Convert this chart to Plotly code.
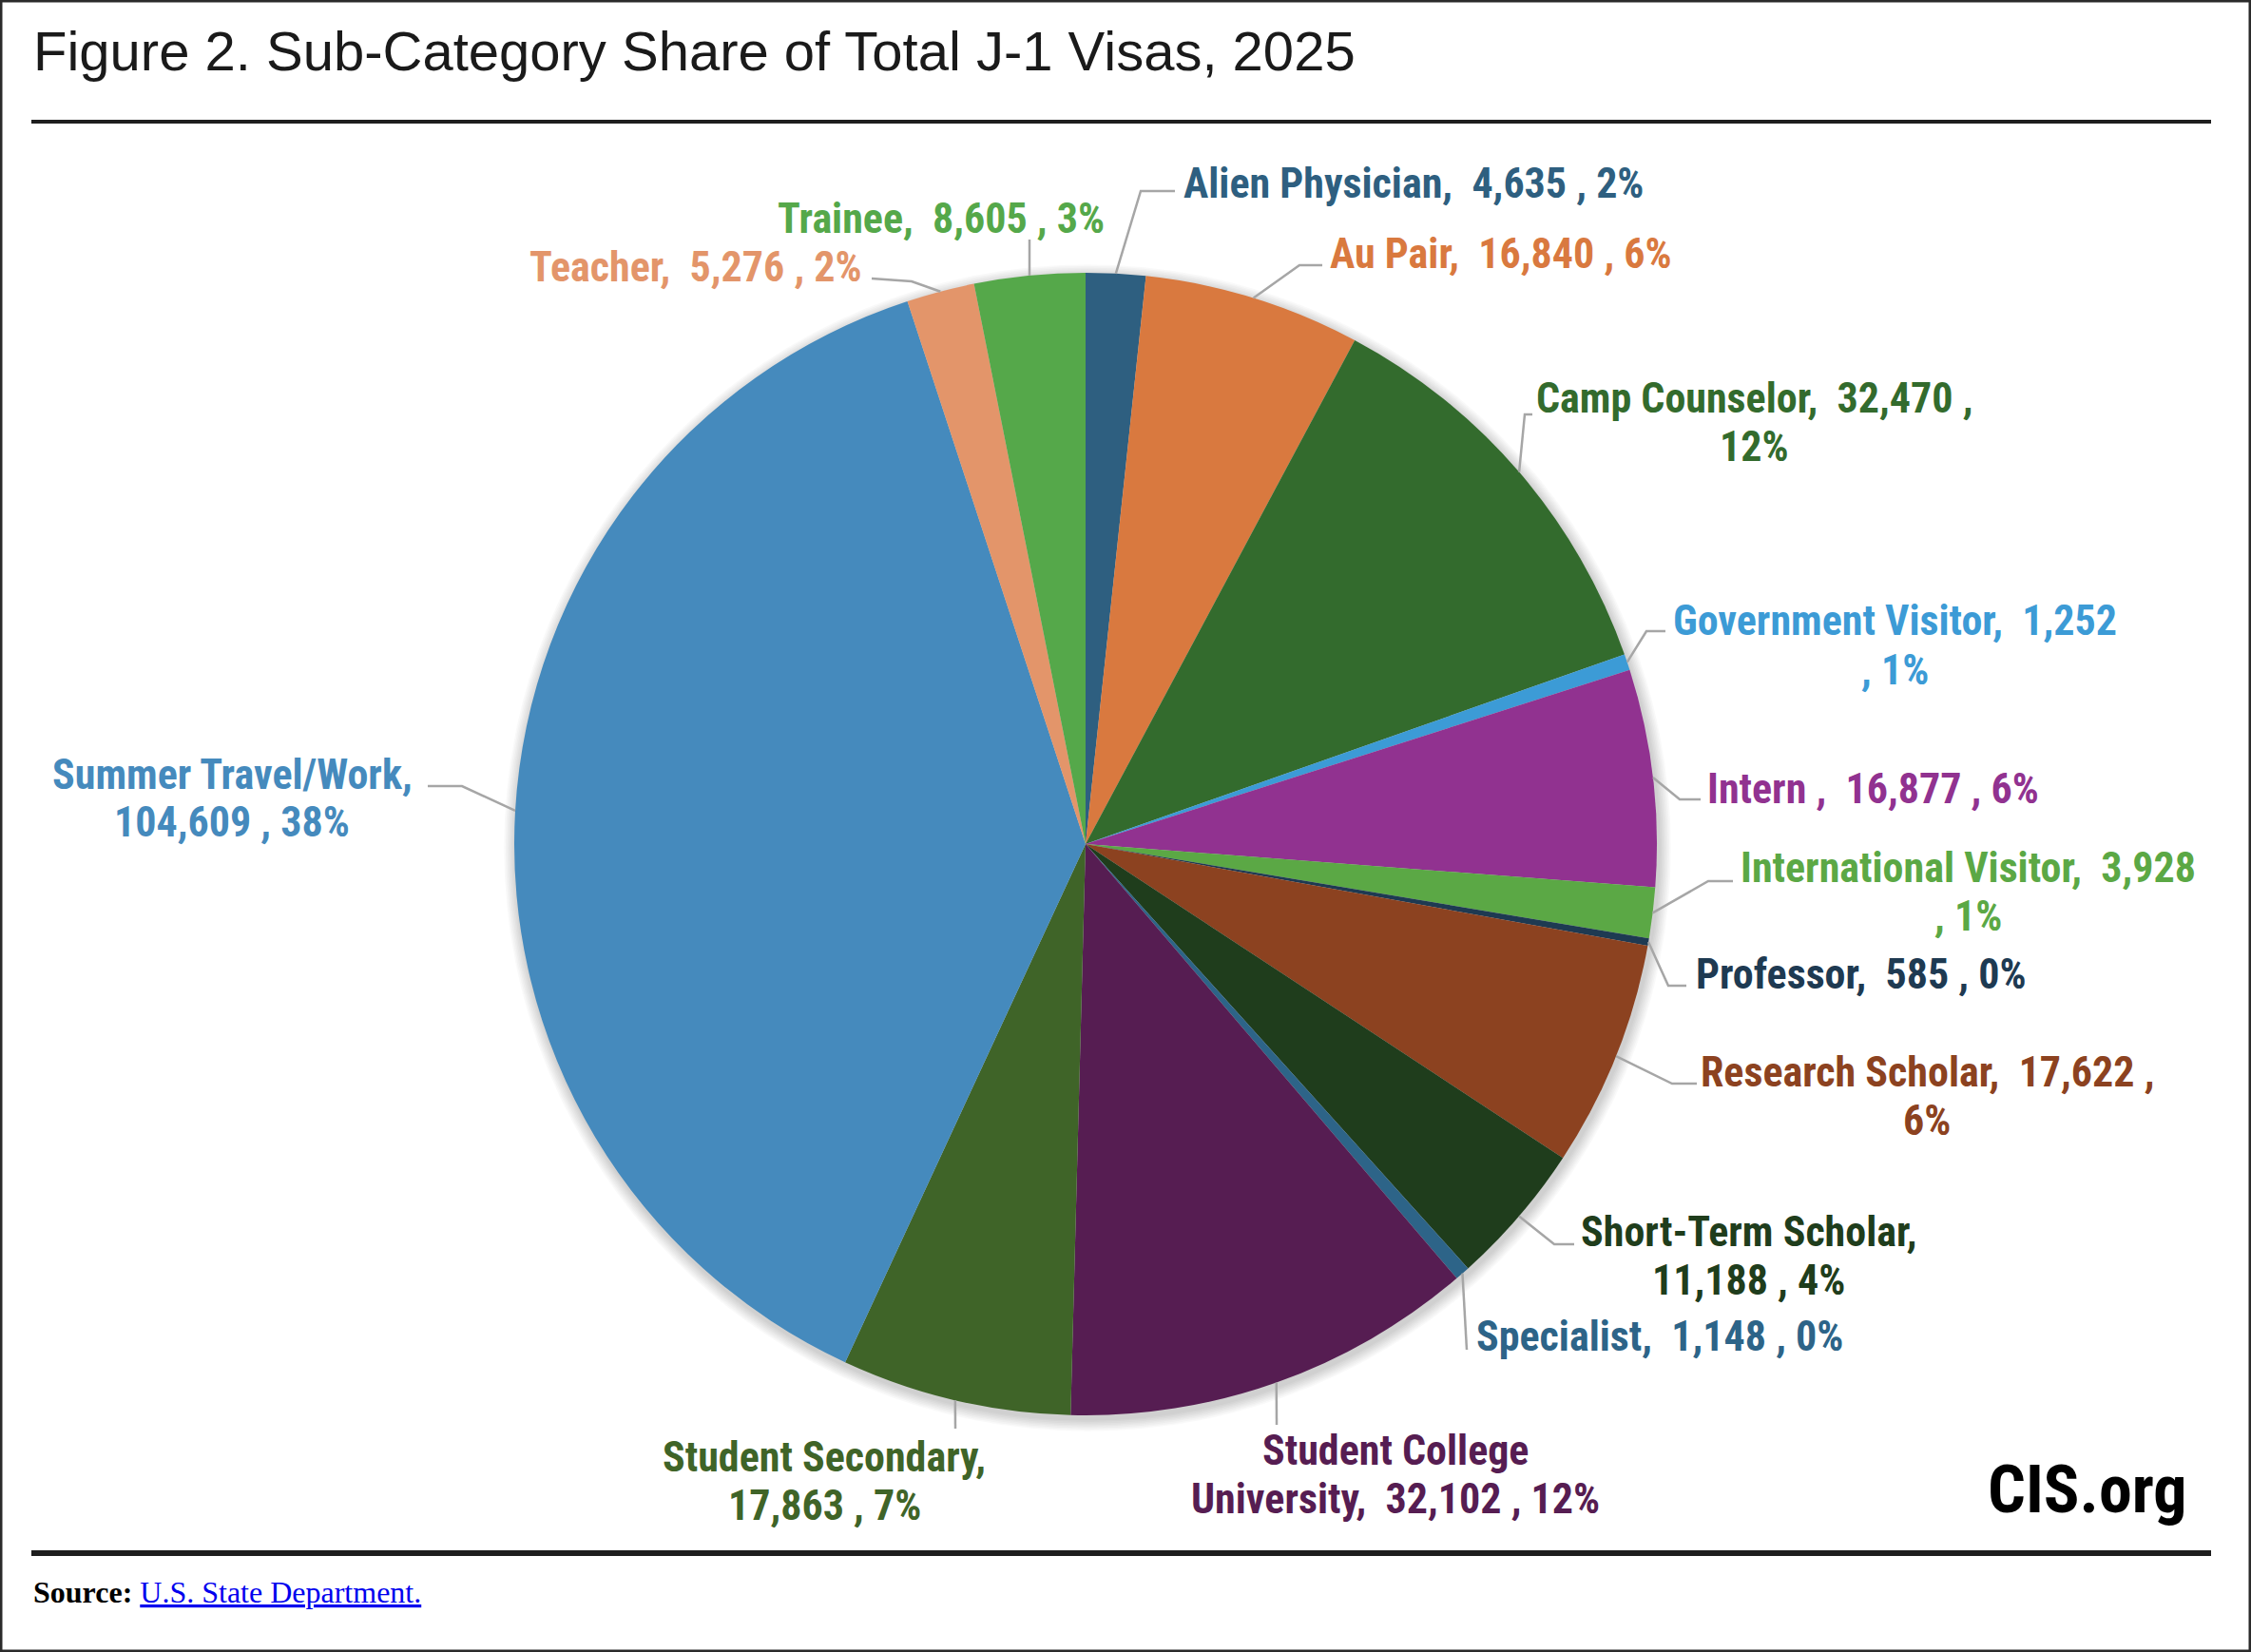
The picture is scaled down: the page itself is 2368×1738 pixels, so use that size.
import math
import plotly.graph_objects as go

# J-1 visas by sub-category, 2025
categories = ["Alien Physician", "Au Pair", "Camp Counselor", "Government Visitor", "Intern",
              "International Visitor", "Professor", "Research Scholar", "Short-Term Scholar",
              "Specialist", "Student College University", "Student Secondary",
              "Summer Travel/Work", "Teacher", "Trainee"]
visas = [4635, 16840, 32470, 1252, 16877, 3928, 585, 17622, 11188, 1148,
         32102, 17863, 104609, 5276, 8605]
share_labels = ["2%", "6%", "12%", "1%", "6%", "1%", "0%", "6%", "4%", "0%",
                "12%", "7%", "38%", "2%", "3%"]

colors = ["#2E5F80", "#D9793F", "#336B2D", "#3C9BD6", "#913290", "#5BA845", "#1E3A52",
          "#8C4220", "#1F3D1C", "#2D6488", "#561D52", "#3F6428", "#458ABD", "#E3956A",
          "#55A84A"]

W, H = 2368, 1738
CX, CY, R = 1142, 888, 601   # pie centre and radius, px
LINE_GAP = 51                # px between the two lines of a wrapped label

# label placement, px: (x, y, xanchor, line break, elbow, leader end)
label_pos = [
    (1243, 193, "left", None, (1200, 201), (1236, 201)),
    (1397, 267, "left", None, (1367, 279), (1391, 279)),
    (1845, 444, "center", "pct", (1604, 436), (1612, 436)),
    (1993, 679, "center", "tail", (1732, 664), (1752, 664)),
    (1794, 830, "left", None, (1767, 841), (1789, 841)),
    (2070, 938, "center", "tail", (1797, 927), (1823, 927)),
    (1782, 1025, "left", None, (1755, 1037), (1774, 1037)),
    (2027, 1153, "center", "pct", (1759, 1140), (1785, 1140)),
    (1840, 1321, "center", "value", (1635, 1309), (1656, 1309)),
    (1551, 1406, "left", None, None, (1543, 1420)),
    (1468, 1551, "center", "name", None, (1343, 1499)),
    (867, 1558, "center", "value", None, (1005, 1503)),
    (244, 840, "center", "value", (486, 827), (450, 827)),
    (909, 281, "right", None, (959, 296), (917, 293)),
    (990, 230, "center", None, None, (1083, 252)),
]

LABEL_FONT = "Roboto Condensed, Lato, DejaVu Sans Condensed, sans-serif"


def px(x, y):
    return x / W, 1 - y / H


def label_lines(name, value, pct, brk):
    shown = "Intern " if name == "Intern" else name
    v = f"{value:,}"
    if brk == "value":
        return [f"{shown},", f"{v} , {pct}"]
    if brk == "tail":
        return [f"{shown},  {v}", f", {pct}"]
    if brk == "pct":
        return [f"{shown},  {v} ,", pct]
    if brk == "name":
        head, tail = shown.rsplit(" ", 1)
        return [head, f"{tail},  {v} , {pct}"]
    return [f"{shown},  {v} , {pct}"]


fig = go.Figure(go.Pie(
    labels=categories,
    values=visas,
    sort=False,
    direction="clockwise",
    rotation=0,
    marker=dict(colors=colors, line=dict(width=0)),
    textinfo="none",
    hoverinfo="label+value+percent",
    showlegend=False,
    domain=dict(x=[(CX - R) / W, (CX + R) / W], y=[1 - (CY + R) / H, 1 - (CY - R) / H]),
))

shapes = []
# soft drop shadow under the pie
for k in range(1, 9):
    rr = R + k * 1.6
    oy = 4
    x0, y0 = px(CX + 2 - rr, CY + oy + rr)
    x1, y1 = px(CX + 2 + rr, CY + oy - rr)
    shapes.append(dict(type="circle", xref="paper", yref="paper", layer="below",
                       x0=x0, x1=x1, y0=y0, y1=y1, line=dict(width=0),
                       fillcolor="rgba(0,0,0,0.022)"))

total = sum(visas)
annotations = []
cum = 0
for i, name in enumerate(categories):
    mid = (cum + visas[i] / 2) / total
    cum += visas[i]
    ang = 2 * math.pi * mid
    sx, sy = CX + R * math.sin(ang), CY - R * math.cos(ang)
    lx, ly, anchor, brk, elbow, end = label_pos[i]
    pts = [(sx, sy)] + ([elbow] if elbow else []) + [end]
    path = "M " + " L ".join("%.5f,%.5f" % px(*p) for p in pts)
    shapes.append(dict(type="path", xref="paper", yref="paper", path=path,
                       line=dict(color="#A6A6A6", width=2.5)))
    lines = label_lines(name, visas[i], share_labels[i], brk)
    y0 = ly - LINE_GAP * (len(lines) - 1) / 2
    for k, line in enumerate(lines):
        ax, ay = px(lx, y0 + k * LINE_GAP)
        annotations.append(dict(
            x=ax, y=ay, xref="paper", yref="paper", xanchor=anchor, yanchor="middle",
            showarrow=False, text=line,
            font=dict(family=LABEL_FONT, size=44, color=colors[i], weight="bold"),
        ))

# title, logo, source
annotations.append(dict(
    x=33 / W, y=1 - 53 / H, xref="paper", yref="paper", xanchor="left", yanchor="middle",
    showarrow=False, text="Figure 2. Sub-Category Share of Total J-1 Visas, 2025",
    font=dict(family="Liberation Sans, Arial, sans-serif", size=58, color="#1A1A1A"),
))
annotations.append(dict(
    x=2303 / W, y=1 - 1567 / H, xref="paper", yref="paper", xanchor="right", yanchor="middle",
    showarrow=False, text="CIS.org",
    font=dict(family="Roboto Condensed, Liberation Sans, sans-serif", size=70,
              color="#000000", weight="bold"),
))
annotations.append(dict(
    x=33 / W, y=1 - 1675 / H, xref="paper", yref="paper", xanchor="left", yanchor="middle",
    showarrow=False,
    text='<b>Source:</b> <span style="color:#0000EE"><u>U.S. State Department.</u></span>',
    font=dict(family="Liberation Serif, Times New Roman, serif", size=32, color="#000000"),
))

# frame and rules
shapes.append(dict(type="rect", xref="paper", yref="paper", x0=0, x1=1, y0=0, y1=1,
                   line=dict(color="#2B2B2B", width=5)))
shapes.append(dict(type="line", xref="paper", yref="paper", x0=33 / W, x1=2326 / W,
                   y0=1 - 128 / H, y1=1 - 128 / H, line=dict(color="#1E1E1E", width=4)))
shapes.append(dict(type="line", xref="paper", yref="paper", x0=33 / W, x1=2326 / W,
                   y0=1 - 1634 / H, y1=1 - 1634 / H, line=dict(color="#1E1E1E", width=6)))

fig.update_layout(
    width=W, height=H,
    margin=dict(l=0, r=0, t=0, b=0),
    paper_bgcolor="white",
    plot_bgcolor="white",
    annotations=annotations,
    shapes=shapes,
)

fig.write_html("out.html", config={"displayModeBar": False},
               post_script="document.body.style.margin='0';")
